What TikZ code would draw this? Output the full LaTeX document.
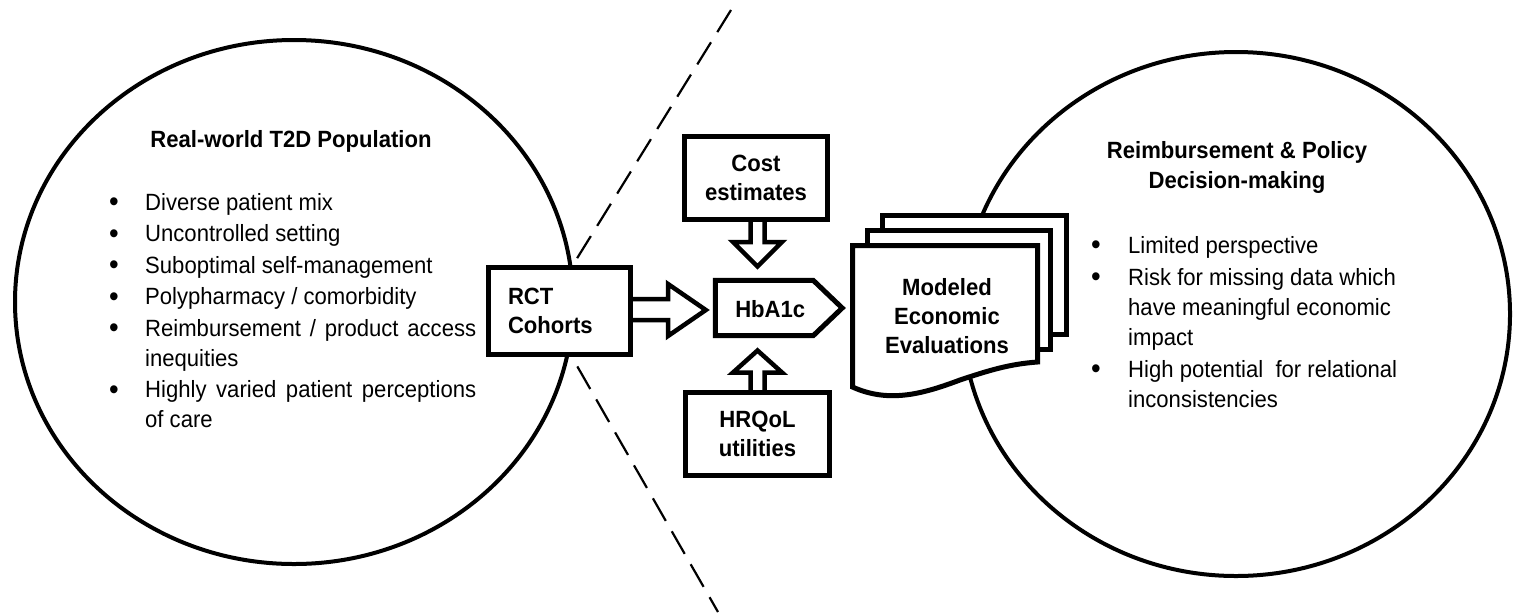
\documentclass[tikz,border=0pt]{standalone}
\usepackage{fontspec}
\setmainfont{Liberation Sans}[FakeStretch=0.94]
\usetikzlibrary{calc,backgrounds}
\newcommand\txtsz{\fontsize{23.5pt}{30pt}\selectfont}
\newcommand\boxsz{\fontsize{23.5pt}{29pt}\selectfont}
\newcommand\bigbul{\raisebox{-1.9pt}{\scalebox{1.25}{\textbullet}}}
\newcommand\itm[2][36pt]{\par\hangindent=#1\hangafter=1\noindent\makebox[#1][l]{\bigbul}#2}
\begin{document}
\begin{tikzpicture}[x=1pt,y=-1pt,
  blob/.style={line width=4pt},
  sep/.style={line width=2.2pt, dash pattern=on 26pt off 12pt},
  box/.style={draw, line width=5pt, fill=white, inner sep=0pt, align=center, font=\boxsz\bfseries},
  barrow/.style={draw, line width=4.5pt, fill=white, line join=miter, miter limit=10},
  docbox/.style={draw, line width=5pt, fill=white, line join=miter, miter limit=10},
  lbl/.style={inner sep=0pt, font=\boxsz\bfseries, align=center}]
\useasboundingbox (0,0) rectangle (1522,614);

% population circles
\draw[blob] (294,302) ellipse [x radius=279, y radius=262];
\draw[blob] (1236,314) ellipse [x radius=274, y radius=262];

% dashed divider
\coordinate (dtop) at (731,10);
\coordinate (dmid) at (545,310);
\coordinate (dbot) at (718,612);
\draw[sep] (dtop) -- (dmid) -- (dbot);

% boxes
\node[box, minimum width=142pt, minimum height=87pt, text width=103pt, align=left] (rct) at (559.5,311) {RCT\\Cohorts};
\node[box, minimum width=143pt, minimum height=83pt] (cost) at (756,178) {Cost\\estimates};
\node[box, minimum width=144pt, minimum height=83pt] (hrq) at (757.5,434) {HRQoL\\utilities};

% HbA1c pentagon
\path (764.25,308) node[minimum width=97.5pt, minimum height=55pt, inner sep=0pt] (hba) {};
\draw[docbox] (hba.north west) -- (hba.north east) -- ($(hba.east)+(29,0)$) -- (hba.south east) -- (hba.south west) -- cycle;
\node[lbl] (hbatext) at ($(hba.center)+(6,1)$) {HbA1c};

% block arrows
\begin{pgfonlayer}{background}
\draw[barrow] ($(rct.east)+(0,-12)$) -- (668,299) -- (668,284) -- ($(hba.west)+(-9.5,2)$) -- (668,336) -- (668,320) -- ($(rct.east)+(0,9)$);
\draw[barrow] ($(cost.south)+(-5.5,0)$) -- ($(cost.south)+(-5.5,20)$) -- ($(cost.south)+(-23,20)$) -- ($(cost.south)+(1.5,44.5)$) -- ($(cost.south)+(26,20)$) -- ($(cost.south)+(8.5,20)$) -- ($(cost.south)+(8.5,0)$);
\draw[barrow] ($(hrq.north)+(-7,0)$) -- ($(hrq.north)+(-7,-17.5)$) -- ($(hrq.north)+(-24.5,-17.5)$) -- ($(hrq.north)+(0,-39.5)$) -- ($(hrq.north)+(24.5,-17.5)$) -- ($(hrq.north)+(7,-17.5)$) -- ($(hrq.north)+(7,0)$);
\end{pgfonlayer}

% document stack
\draw[docbox] (882.5,215.5) rectangle (1066,334.5);
\draw[docbox] (867.5,230.5) rectangle (1050,349.5);
\draw[docbox] (852.5,245.5) -- (1037.5,245.5) -- (1037.5,362) .. controls (1010,364) and (990,370) .. (960,380) .. controls (925,393) and (890,404) .. (852.5,387) -- cycle;
\node[lbl] (doc) at (947,316) {Modeled\\Economic\\Evaluations};

% left text
\node[anchor=base, inner sep=0pt, font=\txtsz\bfseries] (ltitle) at (291,147) {Real-world T2D Population};
\node[anchor=base west, inner sep=0pt] (llist) at (109,210) {\parbox[t]{367pt}{\txtsz\hyphenpenalty=10000 \parskip=1.5pt
\itm{Diverse patient mix}
\itm{Uncontrolled setting}
\itm{Suboptimal self-management}
\itm{Polypharmacy / comorbidity}
\itm{Reimbursement / product access\linebreak inequities}
\itm{Highly varied patient perceptions\linebreak of care}}};

% right text
\node[anchor=base, inner sep=0pt] (rtitle) at (1237,158) {\parbox[t]{340pt}{\centering\txtsz\bfseries Reimbursement \& Policy\\Decision-making}};
\node[anchor=base west, inner sep=0pt] (rlist) at (1091,253) {\parbox[t]{340pt}{\raggedright\txtsz\hyphenpenalty=10000 \parskip=2pt
\itm[37pt]{Limited perspective}
\itm[37pt]{Risk for missing data which\newline have meaningful economic\newline impact}
\itm[37pt]{High potential\ \ for relational\newline inconsistencies}}};
\end{tikzpicture}
\end{document}
